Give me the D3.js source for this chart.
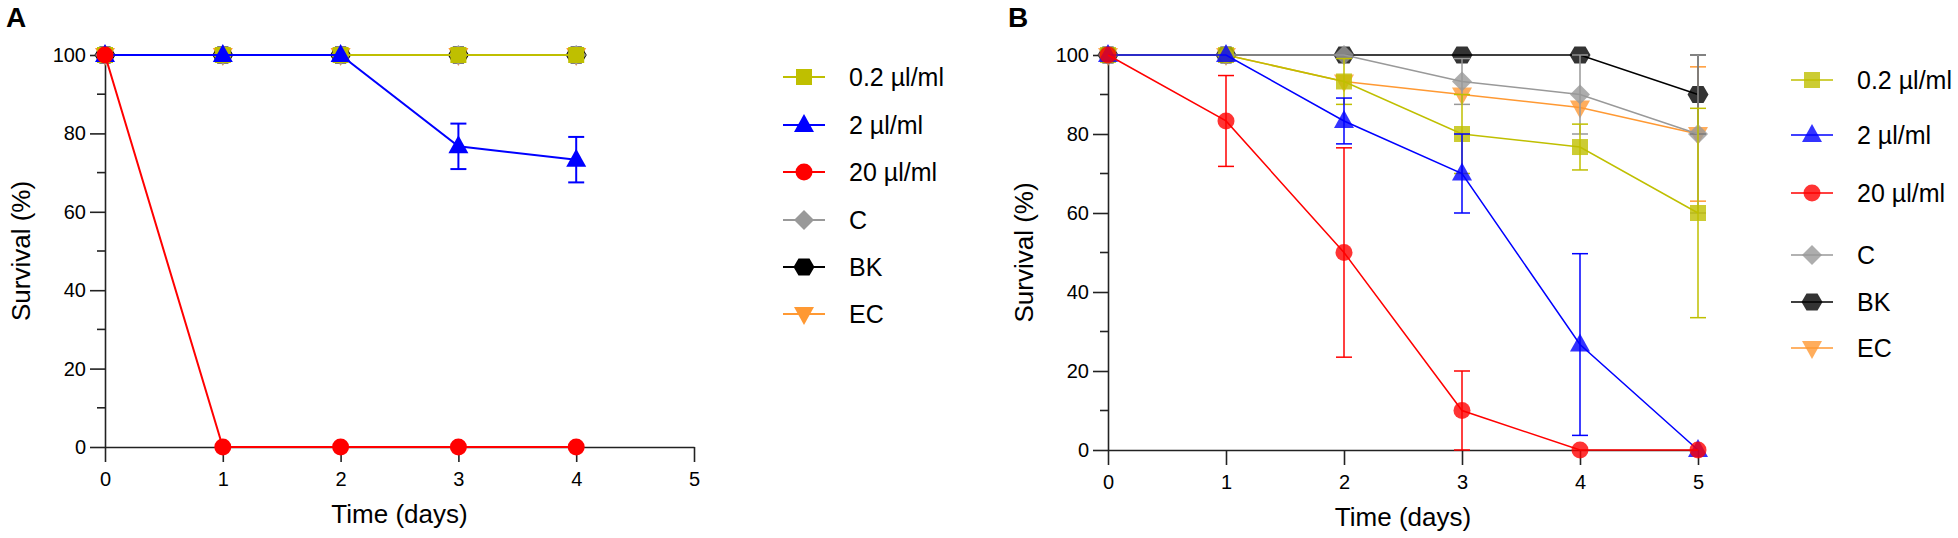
<!DOCTYPE html>
<html><head><meta charset="utf-8">
<script src="https://cdn.jsdelivr.net/npm/d3@7"></script>
<style>body{margin:0;background:#fff}svg text{font-family:"Liberation Sans",Arial,sans-serif;fill:#000}</style>
</head><body><svg id="c" width="1958" height="538"></svg>
<script>
// ---------- data ----------
const seriesNames  = ["0.2 µl/ml","2 µl/ml","20 µl/ml","C","BK","EC"];
const seriesColors = ["#BFBF00","#0000FF","#FF0000","#999999","#000000","#FF9933"];
const seriesShapes = ["square","triangle","circle","diamond","hexagon","triangleDown"];
const xTicks = [0,1,2,3,4,5];
const yTicks = [0,20,40,60,80,100];
const yMinorTicks = [10,30,50,70,90];

// Panel A (days 0..4)
const daysA = [0,1,2,3,4];
const A_02  = [100,100,100,100,100];
const A_2   = [100,100,100,76.7,73.3];
const A_20  = [100,0,0,0,0];
const A_C   = [100,100,100,100,100];
const A_BK  = [100,100,100,100,100];
const A_EC  = [100,100,100,100,100];
const A_02err = [0,0,0,0,0];
const A_2err  = [0,0,0,5.8,5.8];
const A_20err = [0,0,0,0,0];
const A_Cerr  = [0,0,0,0,0];
const A_BKerr = [0,0,0,0,0];
const A_ECerr = [0,0,0,0,0];

// Panel B (days 0..5)
const daysB = [0,1,2,3,4,5];
const B_02  = [100,100,93.3,80,76.7,60];
const B_2   = [100,100,83.3,70,26.7,0];
const B_20  = [100,83.3,50,10,0,0];
const B_C   = [100,100,100,93.3,90,80];
const B_BK  = [100,100,100,100,100,90];
const B_EC  = [100,100,93.3,90,86.7,80];
const B_02err = [0,0,5.8,10,5.8,26.5];
const B_2err  = [0,0,5.8,10,23,0];
const B_20err = [0,11.5,26.5,10,0,0];
const B_Cerr  = [0,0,0,5.8,10,20];
const B_BKerr = [0,0,0,0,0,10];
const B_ECerr = [0,0,0,0,0,17];

const panelA = {label:"A", days:daysA, vals:[A_02,A_2,A_20,A_C,A_BK,A_EC], errs:[A_02err,A_2err,A_20err,A_Cerr,A_BKerr,A_ECerr],
  x0:105, x1:694, yTop:55, yBot:447, lw:2, op:1, labelX:6, legX:804, legTextX:849, legY:[77,125,172,220,267,314]};
const panelB = {label:"B", days:daysB, vals:[B_02,B_2,B_20,B_C,B_BK,B_EC], errs:[B_02err,B_2err,B_20err,B_Cerr,B_BKerr,B_ECerr],
  x0:1108, x1:1698, yTop:55, yBot:450, lw:1.5, op:0.8, labelX:1008, legX:1812, legTextX:1857, legY:[80,135,193,255,302,348]};

// draw order (bottom -> top)
const drawOrder = [5,4,3,0,1,2];

function shapePath(shape){
  switch(shape){
    case "square": return "M-8,-8H8V8H-8Z";
    case "triangle": return "M0,-11L10,7L-10,7Z";
    case "triangleDown": return "M0,11L10,-7L-10,-7Z";
    case "diamond": return "M0,-10L10,0L0,10L-10,0Z";
    case "hexagon": return "M-10.5,0L-5.5,-8.5L5.5,-8.5L10.5,0L5.5,8.5L-5.5,8.5Z";
    case "circle": return d3.symbol(d3.symbolCircle, Math.PI*8.5*8.5)();
  }
}

const svg = d3.select("#c");

function drawPanel(p){
  const x = d3.scaleLinear().domain([0,5]).range([p.x0,p.x1]);
  const y = d3.scaleLinear().domain([0,100]).range([p.yBot,p.yTop]);
  const g = svg.append("g");

  // axes
  const yAxis = d3.axisLeft(y).tickValues(yTicks).tickFormat(d3.format("d")).tickSize(15).tickPadding(4).tickSizeOuter(0);
  const ya = g.append("g").attr("transform",`translate(${p.x0},0)`).call(yAxis);
  ya.selectAll(".tick line").attr("stroke","#222").attr("stroke-width",1.6);
  ya.select(".domain").attr("stroke","#222").attr("stroke-width",1.6);
  ya.selectAll("text").attr("font-size",20).attr("font-family","Liberation Sans, Arial, sans-serif");
  g.append("g").selectAll("line").data(yMinorTicks).join("line")
    .attr("x1",p.x0-8).attr("x2",p.x0).attr("y1",d=>y(d)).attr("y2",d=>y(d))
    .attr("stroke","#222").attr("stroke-width",1.6);

  const xAxis = d3.axisBottom(x).tickValues(xTicks).tickFormat(d3.format("d")).tickSize(15).tickPadding(10).tickSizeOuter(0);
  const xa = g.append("g").attr("transform",`translate(0,${p.yBot})`).call(xAxis);
  xa.selectAll(".tick line").attr("stroke","#222").attr("stroke-width",1.6);
  xa.select(".domain").attr("stroke","#222").attr("stroke-width",1.6);
  xa.selectAll("text").attr("font-size",20).attr("font-family","Liberation Sans, Arial, sans-serif");

  // titles
  g.append("text").attr("x",(p.x0+p.x1)/2).attr("y",p.yBot+76).attr("text-anchor","middle")
    .attr("font-size",26).text("Time (days)");
  g.append("text").attr("transform",`translate(${p.x0-84},${(p.yTop+p.yBot)/2}) rotate(-90)`)
    .attr("text-anchor","middle").attr("dominant-baseline","central").attr("font-size",26).text("Survival (%)");
  g.append("text").attr("x",p.labelX).attr("y",27).attr("font-size",28).attr("font-weight","bold").text(p.label);

  // series
  drawOrder.forEach(i=>{
    const col = seriesColors[i];
    const pts = p.days.map((d,k)=>({d, v:p.vals[i][k], e:p.errs[i][k]}));
    const sg = g.append("g");
    sg.append("path").datum(pts).attr("fill","none").attr("stroke",col).attr("stroke-width",p.lw)
      .attr("d", d3.line().x(q=>x(q.d)).y(q=>y(q.v)));
    const eb = pts.filter(q=>q.e>0);
    sg.selectAll(".eb").data(eb).join("line").attr("x1",q=>x(q.d)).attr("x2",q=>x(q.d))
      .attr("y1",q=>y(Math.min(100,q.v+q.e))).attr("y2",q=>y(Math.max(0,q.v-q.e)))
      .attr("stroke",col).attr("stroke-width",p.lw);
    [1,-1].forEach(s=>{
      sg.selectAll(null).data(eb).join("line")
        .attr("x1",q=>x(q.d)-8).attr("x2",q=>x(q.d)+8)
        .attr("y1",q=>y(Math.max(0,Math.min(100,q.v+s*q.e)))).attr("y2",q=>y(Math.max(0,Math.min(100,q.v+s*q.e))))
        .attr("stroke",col).attr("stroke-width",p.lw);
    });
    sg.selectAll(".m").data(pts).join("path").attr("d",shapePath(seriesShapes[i]))
      .attr("transform",q=>`translate(${x(q.d)},${y(q.v)})`)
      .attr("fill",col).attr("fill-opacity",p.op);
  });

  // legend
  seriesNames.forEach((n,i)=>{
    const ly = p.legY[i];
    g.append("line").attr("x1",p.legX-21).attr("x2",p.legX+21).attr("y1",ly).attr("y2",ly)
      .attr("stroke",seriesColors[i]).attr("stroke-width",p.lw);
    g.append("path").attr("d",shapePath(seriesShapes[i])).attr("transform",`translate(${p.legX},${ly})`)
      .attr("fill",seriesColors[i]).attr("fill-opacity",p.op);
    g.append("text").attr("x",p.legTextX).attr("y",ly).attr("dominant-baseline","central")
      .attr("font-size",25).text(n);
  });
}
drawPanel(panelA);
drawPanel(panelB);
</script></body></html>
